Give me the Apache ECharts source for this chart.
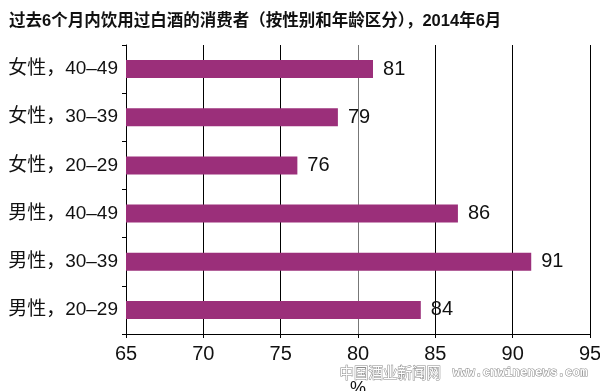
<!DOCTYPE html>
<html>
<head>
<meta charset="utf-8">
<script src="https://cdn.jsdelivr.net/npm/echarts@6/dist/echarts.min.js"></script>
<style>html,body{margin:0;padding:0;background:#fff}#c{width:600px;height:391px}</style>
</head>
<body>
<div id="c"></div>
<script>
const titleText = '过去6个月内饮用过白酒的消费者（按性别和年龄区分），2014年6月';
const categories = ['男性，20–29', '男性，30–39', '男性，40–49', '女性，20–29', '女性，30–39', '女性，40–49'];
const values = [84.06, 91.2, 86.46, 76.08, 78.7, 80.97];
const valueLabels = ['84', '91', '86', '76', '79', '81'];
const xTicks = [65, 70, 75, 80, 85, 90, 95];
const unitLabel = '%';
const watermarkCn = '中国酒业新闻网';
const watermarkEn = 'www.cnwinenews.com';

const FONT = '"Liberation Sans", Arial, "Noto Sans CJK SC", sans-serif';
const chart = echarts.init(document.getElementById('c'), null, {renderer: 'canvas'});
chart.setOption({
  animation: false,
  backgroundColor: '#fff',
  title: {
    text: titleText, left: 4, top: 8,
    textStyle: {fontSize: 16.5, fontWeight: 'bold', color: '#111', fontFamily: FONT}
  },
  grid: {left: 126, right: 10, top: 45, bottom: 57, containLabel: false, outerBoundsMode: 'none'},
  xAxis: {
    type: 'value', min: xTicks[0], max: xTicks[xTicks.length - 1], interval: 5,
    axisLine: {show: true, lineStyle: {color: '#000', width: 1}},
    axisTick: {show: true, length: 4, lineStyle: {color: '#000'}},
    axisLabel: {fontSize: 20, color: '#111', margin: 10, fontFamily: FONT},
    splitLine: {show: true, lineStyle: {color: ['#000', '#000', '#000', '#777', '#000', '#000', '#000'], width: 1}},
    name: unitLabel, nameLocation: 'middle', nameGap: 46,
    nameTextStyle: {fontSize: 18, color: '#111', fontFamily: FONT}
  },
  yAxis: {
    type: 'category', data: categories,
    axisLine: {show: true, lineStyle: {color: '#000', width: 1}},
    axisTick: {show: true, length: 4, alignWithLabel: false, lineStyle: {color: '#000'}},
    axisLabel: {fontSize: 19, color: '#111', margin: 8, fontFamily: FONT}
  },
  series: [{
    type: 'bar', data: values, barWidth: 18,
    itemStyle: {color: '#9b2f7a'},
    label: {
      show: true, position: 'right', distance: 10,
      fontSize: 20, color: '#111', fontFamily: FONT,
      formatter: p => valueLabels[p.dataIndex]
    }
  }],
  graphic: [
    {type: 'text', left: 339, top: 365, style: {text: watermarkCn, font: '14.5px "Noto Sans CJK SC"', fill: '#fff', stroke: '#8a8a8a', lineWidth: 1}},
    {type: 'text', left: 452, top: 366, style: {text: watermarkEn, font: 'bold 12.5px "Liberation Mono", monospace', fill: '#fff', stroke: '#8a8a8a', lineWidth: 1}}
  ]
});
</script>
</body>
</html>
